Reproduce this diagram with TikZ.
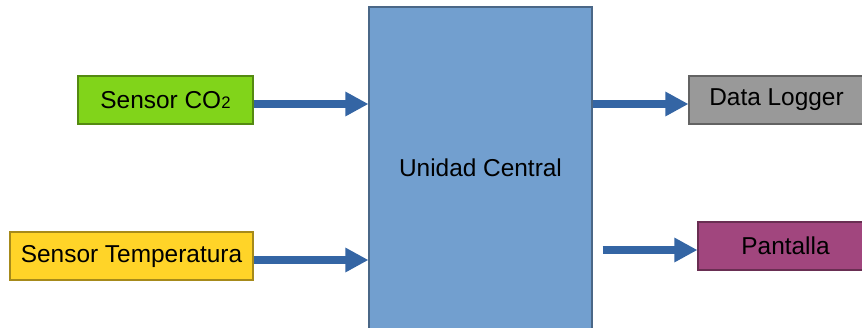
\documentclass[tikz,border=0pt]{standalone}
\usepackage{fontspec}
\setmainfont{Liberation Sans}
\usetikzlibrary{arrows.meta}

\definecolor{cblue}{HTML}{729FCF}
\definecolor{cline}{HTML}{3465A4}
\definecolor{cgreen}{HTML}{81D41A}
\definecolor{cyellow}{HTML}{FFD428}
\definecolor{cgray}{HTML}{999999}
\definecolor{cmagenta}{HTML}{A1467E}

\tikzset{
	block/.style={rectangle, draw=#1!65!black, fill=#1, line width=0.6pt,
		minimum height=0.96cm, inner sep=0pt,
		font=\fontsize{13.9}{16}\selectfont},
	flow/.style={draw=cline, line width=0.15cm,
		-{Triangle[length=0.46cm,width=0.46cm]}}
}

\begin{document}
\begin{tikzpicture}
	\useasboundingbox (0,0) rectangle (17.24,6.54);
	%%%%%%%%%%%%%%%%% blocks %%%%%%%%%%%%%%%%%%%
	% central unit, cut by the lower edge
	\node[block=cblue, minimum width=4.46cm, minimum height=6.44cm] (central) at (9.61,3.18) {Unidad Central};
	
	% name/x/y/width/colour/label
	\foreach \name/\x/\y/\bw/\col/\label in
	{co2/3.31/4.54/3.5/cgreen/{Sensor CO\raisebox{-0.4pt}{\fontsize{9.5}{10}\selectfont 2}},
		temp/2.63/1.42/4.86/cyellow/Sensor Temperatura,
		logger/15.53/4.54/3.5/cgray/Data Logger,
		pantalla/15.71/1.62/3.5/cmagenta/Pantalla}
	{\node[block=\col, minimum width=\bw cm] (\name) at (\x,\y) {\label};}
	
	%%%%%%%%%%%%%%%%% arrows %%%%%%%%%%%%%%%%%%%
	\foreach \name in {co2,temp} {%
		\coordinate (\name-out) at ([yshift=-0.08cm]\name.east);
		\draw[flow] (\name-out) -- (\name-out -| central.west);}
	
	\coordinate (logger-in) at ([yshift=-0.08cm]logger.west);
	\draw[flow] (logger-in -| central.east) -- (logger-in);
	
	\coordinate (pantalla-in) at ([yshift=-0.08cm]pantalla.west);
	\draw[flow] ([xshift=0.2cm]pantalla-in -| central.east) -- (pantalla-in);
\end{tikzpicture}
\end{document}
